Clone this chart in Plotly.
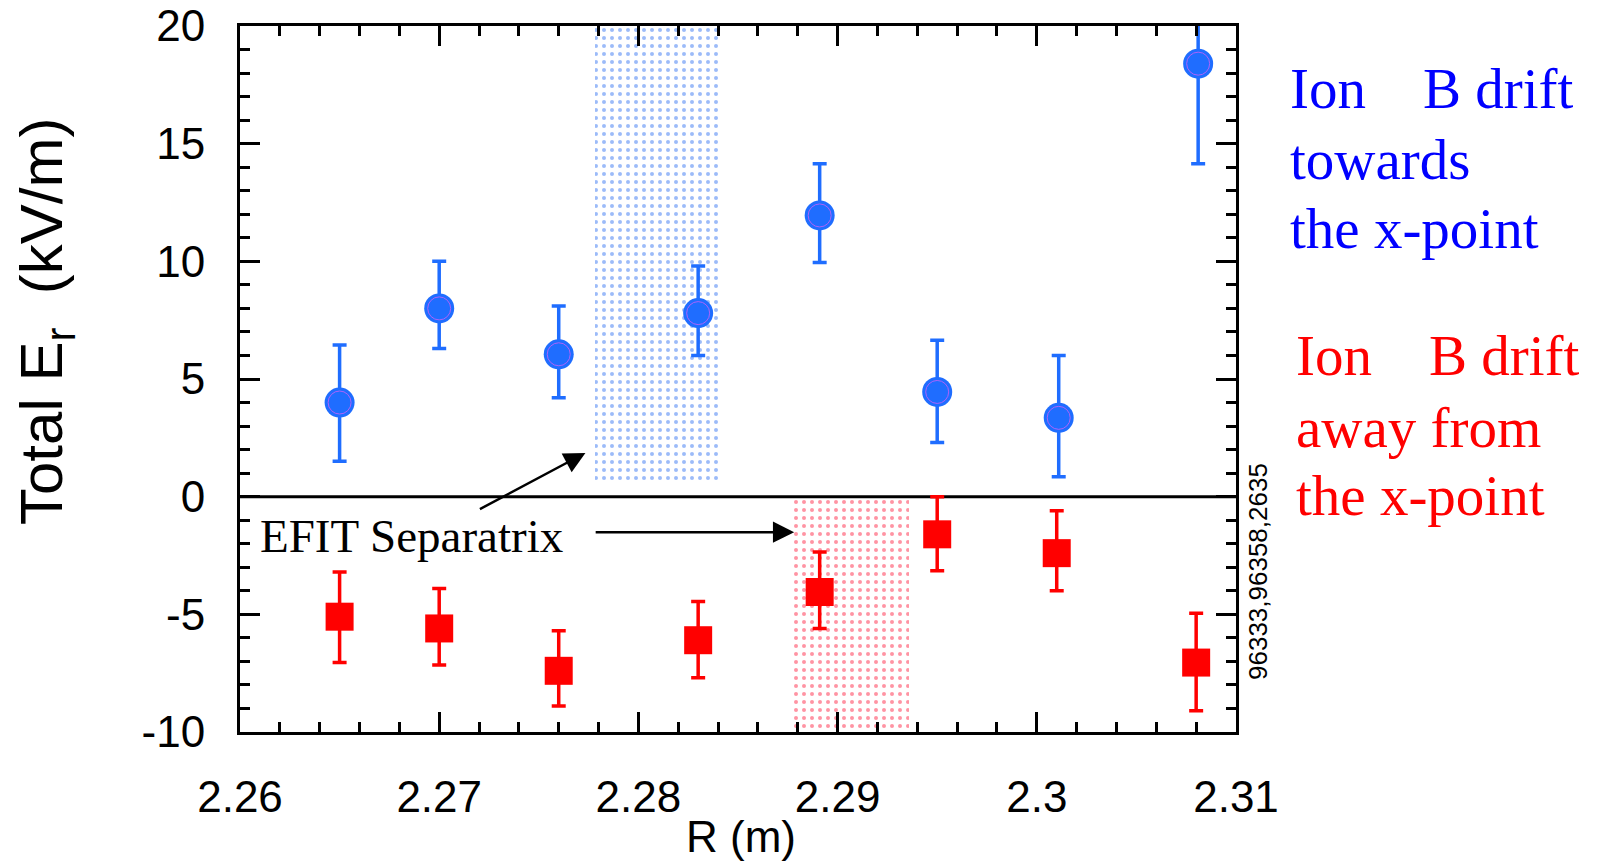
import plotly.graph_objects as go

# ---------------- data ----------------
R_blue = [2.265, 2.270, 2.276, 2.283, 2.2891, 2.295, 2.3011, 2.3081]
Er_blue = [4.0, 8.0, 6.05, 7.8, 11.95, 4.45, 3.35, 18.4]
err_blue_plus = [2.45, 2.0, 2.05, 2.0, 2.2, 2.2, 2.65, 4.25]
err_blue_minus = [2.5, 1.7, 1.85, 1.8, 2.0, 2.15, 2.5, 4.25]

R_red = [2.265, 2.270, 2.276, 2.283, 2.2891, 2.295, 2.3010, 2.3080]
Er_red = [-5.1, -5.6, -7.4, -6.1, -4.05, -1.6, -2.4, -7.05]
err_red_plus = [1.9, 1.7, 1.7, 1.65, 1.7, 1.6, 1.8, 2.1]
err_red_minus = [1.95, 1.55, 1.5, 1.6, 1.55, 1.55, 1.6, 2.05]

# separatrix bands: [R_left, R_right, Er_bottom, Er_top]
sep_blue = [2.2778, 2.2840, 0.6, 20.0]
sep_red = [2.2878, 2.2936, -10.0, -0.15]

x_ticks = [2.26, 2.27, 2.28, 2.29, 2.30, 2.31]
x_ticklabels = ["2.26", "2.27", "2.28", "2.29", "2.3", "2.31"]
y_ticks = [-10, -5, 0, 5, 10, 15, 20]
y_ticklabels = ["-10", "-5", "0", "5", "10", "15", "20"]

shot_label = "96333,96358,2635"

# ---------------- layout helpers ----------------
W, H = 1598, 861
OFF = 8  # page body margin
ML, MR, MT, MB = 232, 370, 18, 137
PW, PH = W - ML - MR, H - MT - MB


def px_x(p):
    return (p - OFF - ML) / PW


def px_y(p):
    return 1 - (p - OFF - MT) / PH


BLUE_M = "#1f6dff"
RED_M = "#ff0000"
SANS = "Liberation Sans, Arial, sans-serif"
SERIF = "Liberation Serif, Times New Roman, serif"

fig = go.Figure()


def band(b, col):
    return go.Bar(
        x=[(b[0] + b[1]) / 2], y=[b[3] - b[2]], base=[b[2]], width=[b[1] - b[0]],
        marker=dict(color="rgba(0,0,0,0)", line=dict(width=0),
                    pattern=dict(shape=".", fgcolor=col, bgcolor="rgba(0,0,0,0)",
                                 size=8, solidity=0.2)),
        hoverinfo="skip", showlegend=False)


fig.add_trace(band(sep_blue, "#3a78f2"))
fig.add_trace(band(sep_red, "#ff2a48"))

fig.add_trace(go.Scatter(
    x=R_blue, y=Er_blue, mode="markers",
    marker=dict(symbol="circle", size=30, color=BLUE_M, line=dict(width=0)),
    error_y=dict(type="data", symmetric=False, array=err_blue_plus,
                 arrayminus=err_blue_minus, color=BLUE_M, thickness=3.5, width=7),
    showlegend=False))
fig.add_trace(go.Scatter(
    x=R_blue, y=Er_blue, mode="markers",
    marker=dict(symbol="circle-open", size=23,
                line=dict(width=1, color="rgba(170,200,255,0.55)")),
    hoverinfo="skip", showlegend=False))
fig.add_trace(go.Scatter(
    x=R_red, y=Er_red, mode="markers",
    marker=dict(symbol="square", size=28, color=RED_M, line=dict(width=0)),
    error_y=dict(type="data", symmetric=False, array=err_red_plus,
                 arrayminus=err_red_minus, color=RED_M, thickness=3.5, width=7),
    showlegend=False))

axis_common = dict(
    showline=True, linecolor="black", linewidth=3, mirror="ticks",
    ticks="inside", ticklen=20, tickwidth=3, tickcolor="black",
    showgrid=False, zeroline=False, automargin=False,
    ticklabeloverflow="allow",
    tickfont=dict(family=SANS, size=44, color="black"),
)

fig.update_xaxes(
    range=[2.26, 2.31], tickvals=x_ticks, ticktext=x_ticklabels,
    ticklabelstandoff=24,
    minor=dict(dtick=0.002, tick0=2.26, ticks="inside", ticklen=10, tickwidth=3,
               tickcolor="black", showgrid=False),
    **axis_common)
fig.update_yaxes(
    range=[-10, 20], tickvals=y_ticks, ticktext=y_ticklabels,
    ticklabelstandoff=23,
    minor=dict(dtick=1, tick0=0, ticks="inside", ticklen=10, tickwidth=3,
               tickcolor="black", showgrid=False),
    **axis_common)

# zero line
fig.add_shape(type="line", xref="paper", yref="y", x0=0, x1=1, y0=0, y1=0,
              line=dict(color="black", width=3), layer="below")

ann = []
# axis titles
ann.append(dict(text="Total E<sub>r</sub>\u00a0\u00a0(kV/m)", textangle=-90,
                xref="paper", yref="paper", x=px_x(46), y=px_y(322),
                xanchor="center", yanchor="middle", showarrow=False,
                font=dict(family=SANS, size=60, color="black")))
ann.append(dict(text="R (m)", xref="paper", yref="paper", x=px_x(741), y=px_y(836),
                xanchor="center", yanchor="middle", showarrow=False,
                font=dict(family=SANS, size=44, color="black")))
# shot numbers
ann.append(dict(text=shot_label, textangle=-90, xref="paper", yref="paper",
                x=px_x(1258), y=px_y(572), xanchor="center", yanchor="middle",
                showarrow=False, font=dict(family=SANS, size=26, color="black")))

# legend-like texts
blue_lines = ["Ion\u00a0\u00a0\u00a0\u00a0B drift", "towards", "the x-point"]
red_lines = ["Ion\u00a0\u00a0\u00a0\u00a0B drift", "away from", "the x-point"]
for t, c in zip(blue_lines, [88, 159, 228]):
    ann.append(dict(text=t, xref="paper", yref="paper", x=px_x(1288), y=px_y(c),
                    xanchor="left", yanchor="middle", showarrow=False,
                    font=dict(family=SERIF, size=57, color="#0000ff")))
for t, c in zip(red_lines, [355, 427, 495]):
    ann.append(dict(text=t, xref="paper", yref="paper", x=px_x(1294), y=px_y(c),
                    xanchor="left", yanchor="middle", showarrow=False,
                    font=dict(family=SERIF, size=57, color="#ff0000")))

# EFIT separatrix label and arrows
ann.append(dict(text="EFIT Separatrix", xref="paper", yref="paper",
                x=px_x(258), y=px_y(536), xanchor="left", yanchor="middle",
                showarrow=False, font=dict(family=SERIF, size=47, color="black")))
ann.append(dict(text="", x=2.27734, y=1.86, xref="x", yref="y",
                ax=-107, ay=57, showarrow=True, arrowhead=2, arrowsize=1.7,
                arrowwidth=2.5, arrowcolor="black"))
ann.append(dict(text="", x=2.28782, y=-1.51, xref="x", yref="y",
                ax=-200, ay=0, showarrow=True, arrowhead=2, arrowsize=1.7,
                arrowwidth=2.5, arrowcolor="black"))

fig.update_layout(
    width=W, height=H, margin=dict(l=ML, r=MR, t=MT, b=MB, autoexpand=False),
    paper_bgcolor="white", plot_bgcolor="white",
    barmode="overlay", bargap=0, showlegend=False,
    annotations=ann,
)

fig.write_html("out.html")
